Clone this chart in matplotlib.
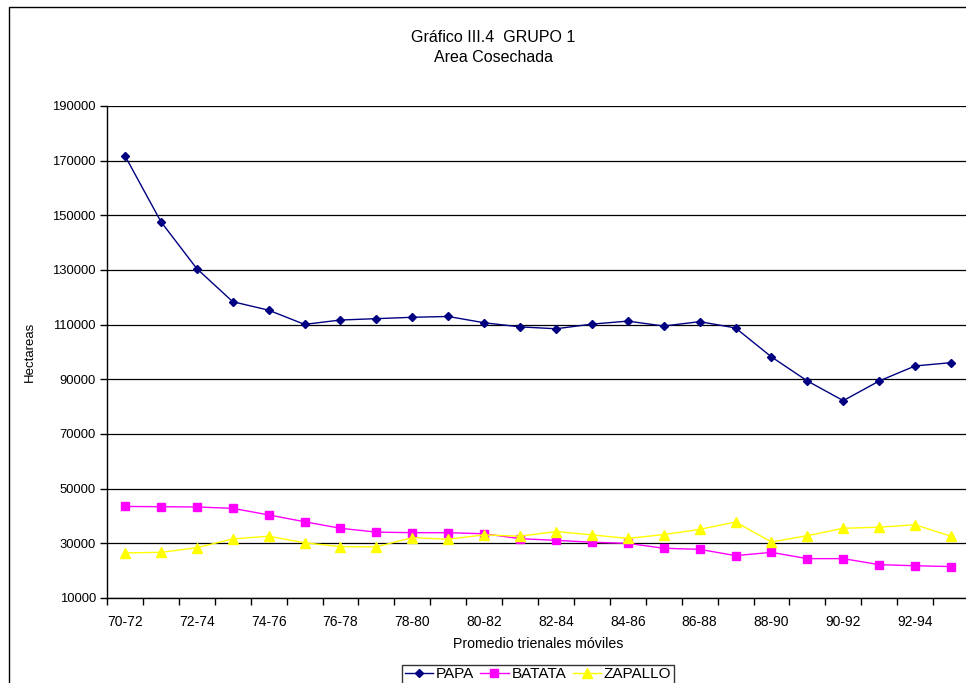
import matplotlib.pyplot as plt
from matplotlib.patches import Rectangle

plt.rcParams['font.family'] = ['Liberation Sans', 'DejaVu Sans']

# Data
periodos = ['70-72', '71-73', '72-74', '73-75', '74-76', '75-77', '76-78', '77-79',
            '78-80', '79-81', '80-82', '81-83', '82-84', '83-85', '84-86', '85-87',
            '86-88', '87-89', '88-90', '89-91', '90-92', '91-93', '92-94', '93-95']

papa = [171800, 147700, 130500, 118400, 115300, 110100, 111700, 112200,
        112700, 113000, 110700, 109200, 108500, 110200, 111300, 109500,
        111100, 108800, 98200, 89400, 82200, 89400, 94900, 96100]

batata = [43500, 43400, 43300, 42800, 40400, 37900, 35500, 34100,
          33900, 33900, 33500, 31700, 31100, 30400, 30000, 28200,
          27800, 25500, 26700, 24400, 24400, 22200, 21800, 21500]

zapallo = [26500, 26700, 28400, 31600, 32600, 30200, 28800, 28700,
           32100, 31500, 33100, 32600, 34300, 33100, 31800, 33200,
           35100, 37800, 30500, 32800, 35500, 35900, 36800, 32600]

y_ticks = list(range(10000, 190001, 20000))

fig = plt.figure(figsize=(9.66, 6.83), dpi=100)
W, H = 966, 683

# outer chart frame (only left and top edges visible in the reference)
fig.patches.append(Rectangle((9 / W, -0.1), 1.2, 1 - 7 / H + 0.1,
                             transform=fig.transFigure, fill=False,
                             edgecolor='black', linewidth=1.0))

ax = fig.add_axes([107 / W, 1 - 598 / H, 862 / W, 492 / H])

x = list(range(len(periodos)))
ax.plot(x, papa, color='#000080', marker='D', markersize=4.5, linewidth=1.0, label='PAPA')
ax.plot(x, batata, color='#FF00FF', marker='s', markersize=6, linewidth=1.0, label='BATATA')
ax.plot(x, zapallo, color='#FFFF00', marker='^', markersize=6.5, linewidth=1.0, label='ZAPALLO')

ax.set_xlim(-0.5, len(periodos) - 0.5)
ax.set_ylim(10000, 190000)
ax.set_yticks(y_ticks)
ax.set_yticklabels([str(v) for v in y_ticks], fontsize=9.4)
ax.yaxis.grid(True, color='black', linewidth=0.9)
ax.set_axisbelow(True)

# ticks at category boundaries, labels at every second category
ax.set_xticks([i - 0.5 for i in range(len(periodos) + 1)])
ax.set_xticklabels([])
ax.set_xticks(x[::2], minor=True)
ax.set_xticklabels(periodos[::2], minor=True, fontsize=10)
ax.tick_params(axis='x', which='minor', length=0, pad=12)
ax.tick_params(axis='x', which='major', length=5, width=1, direction='out')
ax.tick_params(axis='y', length=5, width=1, direction='out', pad=3)

for s in ['top', 'right']:
    ax.spines[s].set_visible(False)
for s in ['left', 'bottom']:
    ax.spines[s].set_linewidth(1.0)

ax.set_xlabel('Promedio trienales móviles', fontsize=10.2, labelpad=6)
ax.set_ylabel('Hectareas', fontsize=9.5, labelpad=12)

fig.text(493 / W, 1 - 38 / H, 'Gráfico III.4  GRUPO 1', ha='center', va='center', fontsize=11.5)
fig.text(493 / W, 1 - 57 / H, 'Area Cosechada', ha='center', va='center', fontsize=11.5)

leg = fig.legend(loc='upper center', bbox_to_anchor=(538 / W, 1 - 665 / H), ncol=3,
                 fontsize=11, frameon=True, fancybox=False, edgecolor='black',
                 borderpad=0.15, handlelength=1.85, handletextpad=0.2, columnspacing=0.4,
                 borderaxespad=0)
leg.get_frame().set_linewidth(1.0)

fig.savefig('out.png', dpi=100)
